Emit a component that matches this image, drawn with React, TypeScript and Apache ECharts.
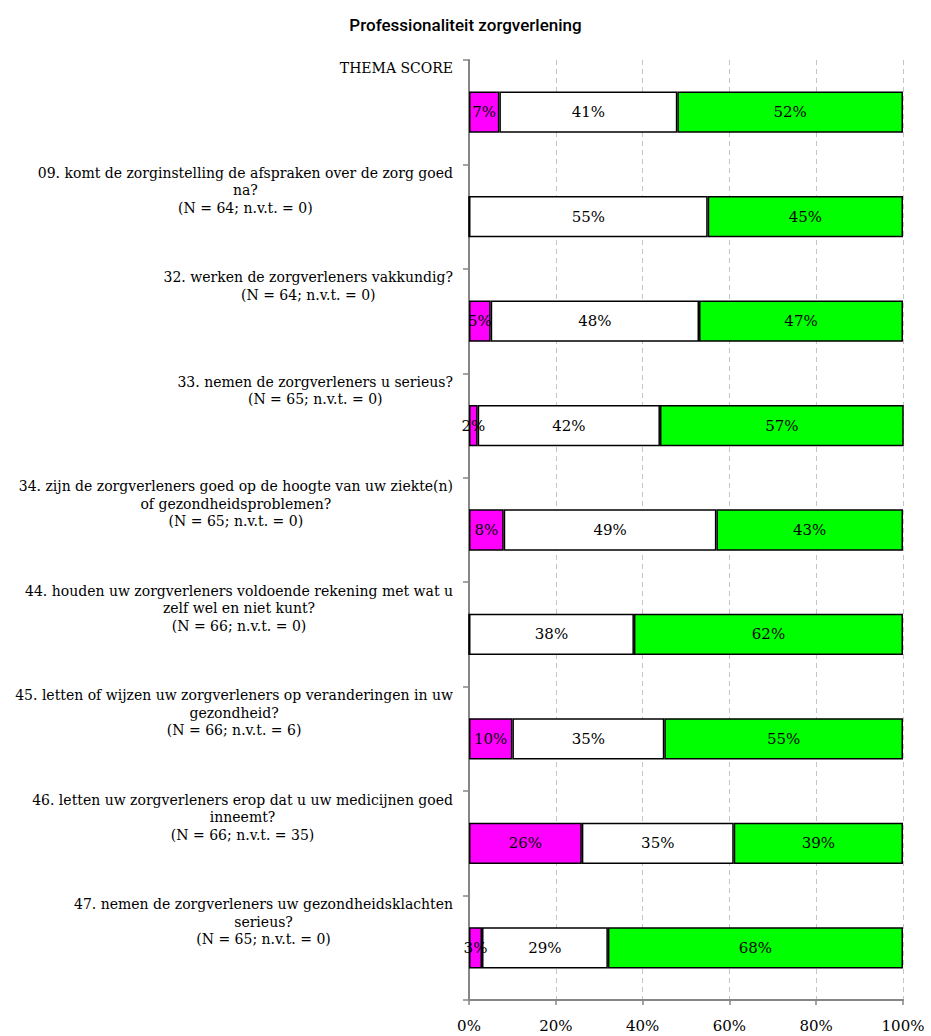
import React, { useEffect, useRef } from "react";
import * as echarts from "echarts";

const chartTitle = "Professionaliteit zorgverlening";

// Question labels, wrapped the way they are printed next to the bars
const categories = [
  "THEMA SCORE",
  "09. komt de zorginstelling de afspraken over de zorg goed\nna?\n(N = 64; n.v.t. = 0)",
  "32. werken de zorgverleners vakkundig?\n(N = 64; n.v.t. = 0)",
  "33. nemen de zorgverleners u serieus?\n(N = 65; n.v.t. = 0)",
  "34. zijn de zorgverleners goed op de hoogte van uw ziekte(n)\nof gezondheidsproblemen?\n(N = 65; n.v.t. = 0)",
  "44. houden uw zorgverleners voldoende rekening met wat u\nzelf wel en niet kunt?\n(N = 66; n.v.t. = 0)",
  "45. letten of wijzen uw zorgverleners op veranderingen in uw\ngezondheid?\n(N = 66; n.v.t. = 6)",
  "46. letten uw zorgverleners erop dat u uw medicijnen goed\ninneemt?\n(N = 66; n.v.t. = 35)",
  "47. nemen de zorgverleners uw gezondheidsklachten\nserieus?\n(N = 65; n.v.t. = 0)",
];

// Percentages per answer group
const lowScores = [7, 0, 5, 2, 8, 0, 10, 26, 3];
const midScores = [41, 55, 48, 42, 49, 38, 35, 35, 29];
const highScores = [52, 45, 47, 57, 43, 62, 55, 39, 68];

const axisMin = 0;
const axisMax = 100;
const axisStep = 20;

const SERIF = "'DejaVu Serif', serif";
const LINE_H = 17.5;
const BLOCK_LINES = 6;

// Lines are centred inside the block; blank lines pad the block to a full
// category band so the text starts at the top of its band.
function wrapLabel(value: string): string {
  const lines = value.split("\n").map((l) => `{c|${l}}`);
  while (lines.length < BLOCK_LINES) lines.push("{b| }");
  return lines.join("\n");
}

export default function App() {
  const ref = useRef<HTMLDivElement>(null);

  useEffect(() => {
    if (!ref.current) return;
    const chart = echarts.init(ref.current, null, { renderer: "svg" });

    const barStyle = (color: string) => ({
      color,
      borderColor: "#000000",
      borderWidth: 1.5,
    });
    const barLabel = {
      show: true,
      position: "inside" as const,
      color: "#000000",
      fontFamily: SERIF,
      fontSize: 15,
      formatter: (p: any) => (p.value ? `${p.value}%` : ""),
    };

    const makeSeries = (name: string, data: number[], color: string) => ({
      name,
      type: "bar" as const,
      stack: "total",
      data,
      barWidth: "39.5%",
      itemStyle: barStyle(color),
      label: barLabel,
      emphasis: { disabled: true },
    });

    chart.setOption({
      animation: false,
      backgroundColor: "#ffffff",
      title: {
        text: chartTitle,
        left: "center",
        top: 11,
        textStyle: {
          fontFamily: "Roboto, 'Liberation Sans', Arial, sans-serif",
          fontWeight: 500,
          fontSize: 17,
          color: "#000000",
        },
      },
      grid: {
        left: 469,
        right: 28,
        top: 60,
        bottom: 36,
        containLabel: false,
        outerBoundsMode: "none",
      },
      xAxis: {
        type: "value",
        min: axisMin,
        max: axisMax,
        interval: axisStep,
        axisLine: { show: true, lineStyle: { color: "#868686", width: 2 } },
        axisTick: { show: true, length: 5, lineStyle: { color: "#868686", width: 1.5 } },
        axisLabel: {
          formatter: "{value}%",
          color: "#000000",
          fontFamily: SERIF,
          fontSize: 15,
          margin: 18,
        },
        splitLine: {
          show: true,
          lineStyle: { color: "#c4c4c4", width: 1, type: [5, 4] },
        },
      },
      yAxis: {
        type: "category",
        inverse: true,
        data: categories,
        axisLine: { show: true, lineStyle: { color: "#868686", width: 2 } },
        axisTick: { show: true, length: 6, lineStyle: { color: "#868686", width: 1.5 } },
        splitLine: { show: false },
        axisLabel: {
          interval: 0,
          margin: 16,
          align: "right",
          verticalAlign: "middle",
          formatter: wrapLabel,
          rich: {
            c: {
              align: "center",
              fontFamily: SERIF,
              fontSize: 14,
              lineHeight: LINE_H,
              color: "#000000",
            },
            b: {
              fontFamily: SERIF,
              fontSize: 14,
              lineHeight: LINE_H,
            },
          },
        },
      },
      series: [
        makeSeries("laag", lowScores, "#ff00ff"),
        makeSeries("midden", midScores, "#ffffff"),
        makeSeries("hoog", highScores, "#00ff00"),
      ],
    });

    return () => chart.dispose();
  }, []);

  return (
    <div
      ref={ref}
      style={{ position: "absolute", left: 0, top: 0, width: 931, height: 1036 }}
    />
  );
}
